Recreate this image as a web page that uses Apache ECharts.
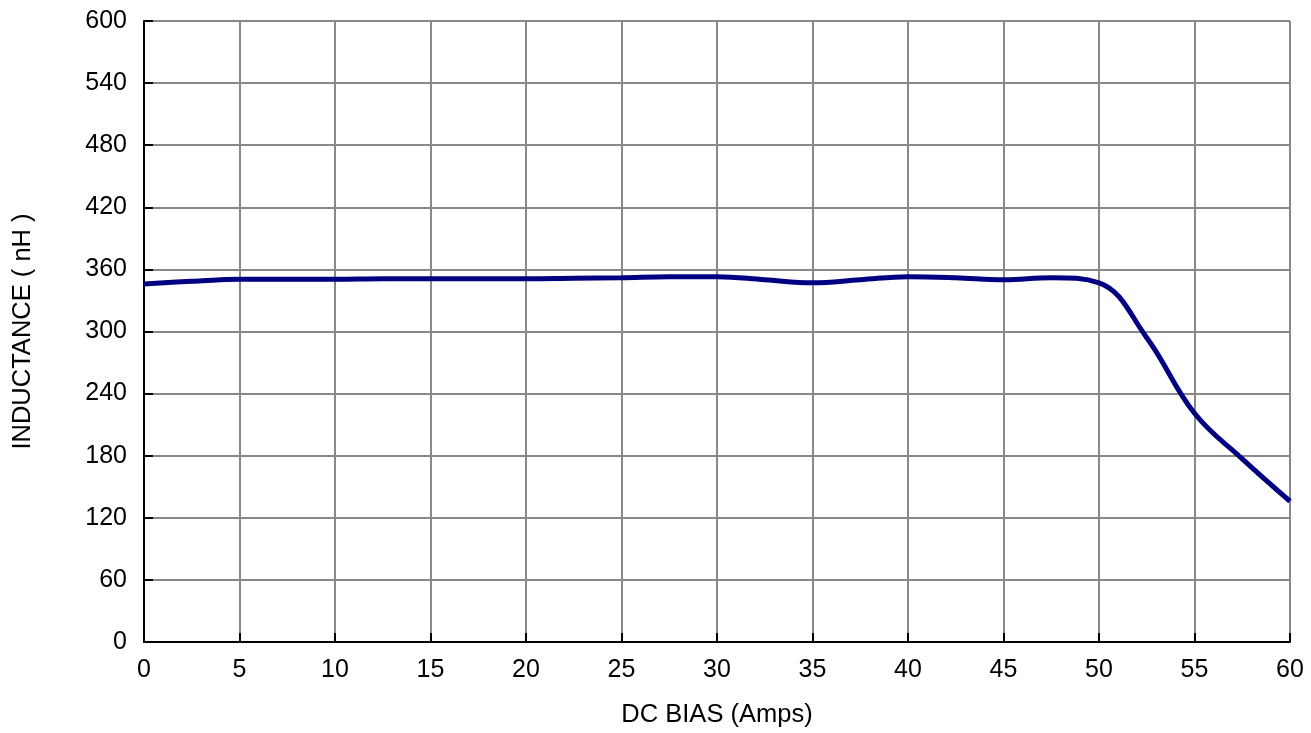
<!DOCTYPE html>
<html>
<head>
<meta charset="utf-8">
<script src="https://cdn.jsdelivr.net/npm/echarts@6/dist/echarts.min.js"></script>
<style>
  html, body { margin: 0; padding: 0; background: #fff; }
  #chart { width: 1311px; height: 733px; }
</style>
</head>
<body>
<div id="chart"></div>
<script>
// DC bias (A) vs inductance (nH)
var biasAmps = [0, 2.5, 5, 7.5, 10, 12.5, 15, 17.5, 20, 22.5, 25, 27.5, 30, 32.5, 35, 37.5, 40, 42.5, 45, 47.5, 50, 52.5, 55, 57.5, 60];
var inductance = [346, 348.5, 350.5, 350.5, 350.5, 351, 351, 351, 351, 351.5, 352, 353, 353, 350, 347, 350, 353, 352, 350, 352, 347, 294, 221, 177, 136];

var xTicks = { min: 0, max: 60, interval: 5 };
var yTicks = { min: 0, max: 600, interval: 60 };

var points = biasAmps.map(function (x, i) { return [x, inductance[i]]; });

var chart = echarts.init(document.getElementById("chart"));
var font = "Liberation Sans, Arial, sans-serif";

var option = {
  animation: false,
  grid: { left: 144, right: 21, top: 21, bottom: 87, containLabel: false },
  xAxis: {
    type: "value",
    min: xTicks.min,
    max: xTicks.max,
    interval: xTicks.interval,
    name: "DC BIAS (Amps)",
    nameLocation: "middle",
    nameGap: 60,
    nameTextStyle: { color: "#000", fontSize: 25.5, fontFamily: font },
    axisLine: { onZero: false, lineStyle: { color: "#000", width: 2 } },
    axisTick: { inside: true, length: 9, lineStyle: { color: "#000", width: 2 } },
    axisLabel: { color: "#000", fontSize: 25, fontFamily: font, margin: 16 },
    splitLine: { show: true, lineStyle: { color: "#888", width: 2 } }
  },
  yAxis: {
    type: "value",
    min: yTicks.min,
    max: yTicks.max,
    interval: yTicks.interval,
    name: "INDUCTANCE ( nH )",
    nameLocation: "middle",
    nameGap: 108,
    nameTextStyle: { color: "#000", fontSize: 25.5, fontFamily: font },
    axisLine: { show: true, lineStyle: { color: "#000", width: 2 } },
    axisTick: { show: true, inside: true, length: 9, lineStyle: { color: "#000", width: 2 } },
    axisLabel: { color: "#000", fontSize: 25, fontFamily: font, margin: 17 },
    splitLine: { show: true, lineStyle: { color: "#888", width: 2 } }
  },
  series: [
    {
      type: "line",
      data: points,
      smooth: 0.4,
      showSymbol: false,
      lineStyle: { color: "#000080", width: 5 },
      z: 5
    }
  ]
};

chart.setOption(option);
</script>
</body>
</html>
